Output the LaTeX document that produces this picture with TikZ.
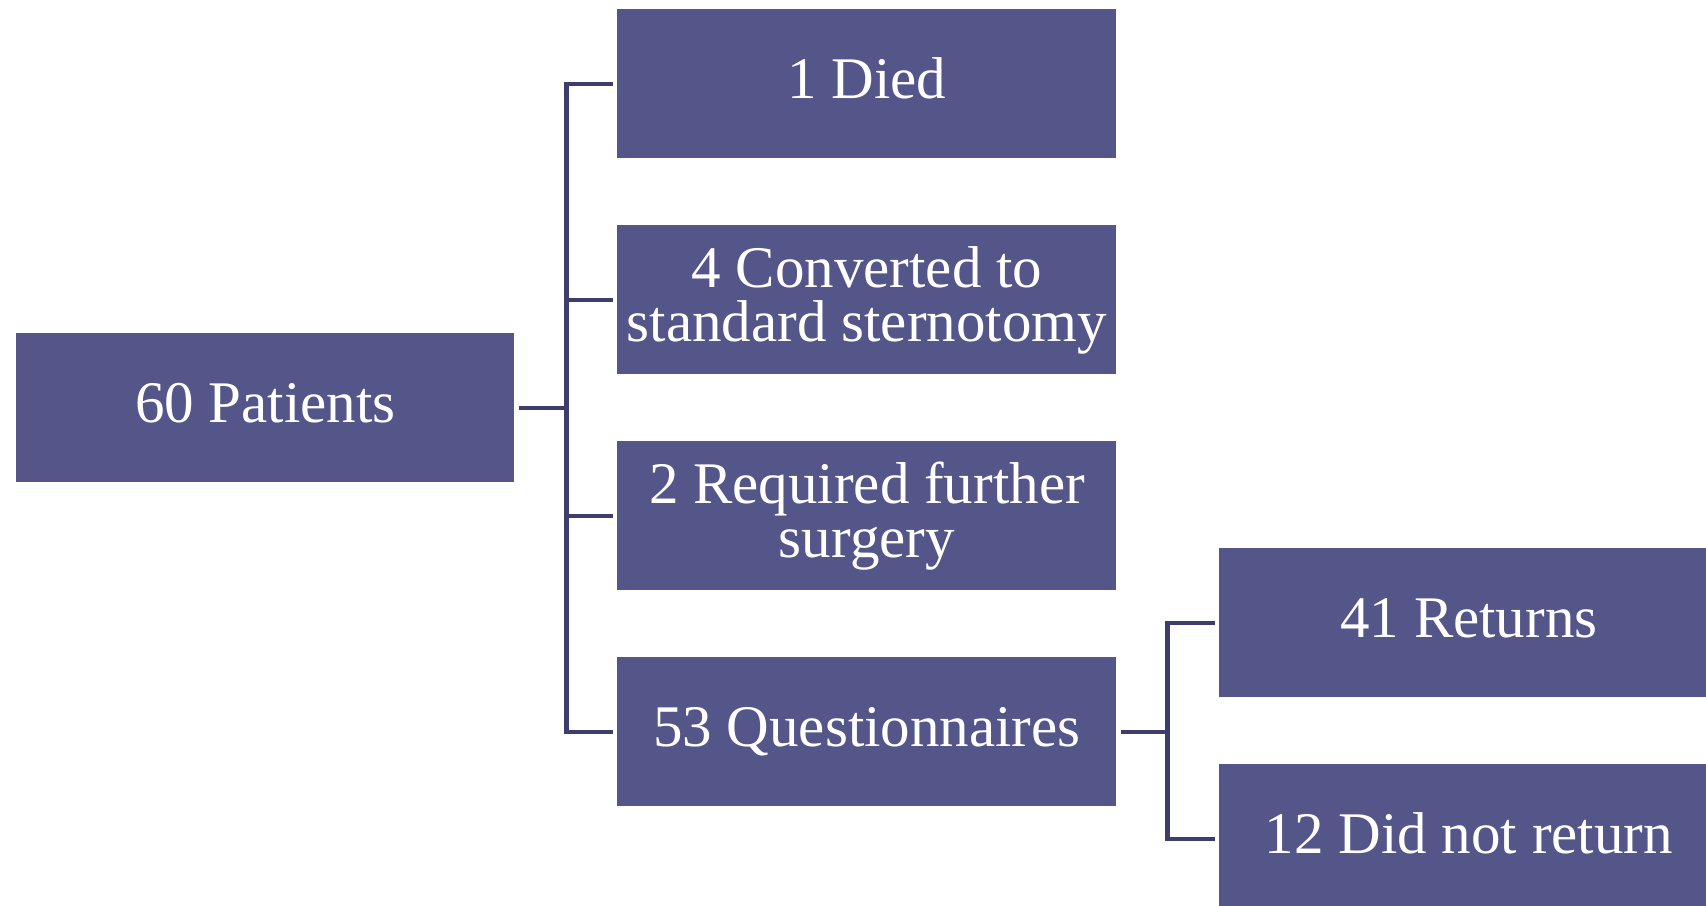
\documentclass[tikz,border=0pt]{standalone}
\usepackage{fontspec}
\setmainfont{Liberation Serif}
\definecolor{boxc}{RGB}{84,86,138}
\definecolor{linec}{RGB}{62,62,108}
\begin{document}
\begin{tikzpicture}[x=0.5pt,y=-0.5pt,
  box/.style={fill=boxc, draw=none, minimum width=249.5pt, minimum height=74.5pt, inner sep=0pt, anchor=north west},
  txt/.style={text=white, font=\fontsize{29.5}{27}\selectfont, inner sep=0pt, anchor=base},
  firstline/.style={txt, text depth=0pt},
  conn/.style={draw=linec, line width=2.4pt, shorten <=2pt, shorten >=2pt}]
\useasboundingbox (0,0) rectangle (1706,905);
\clip (0,0) rectangle (1706,905);
% boxes
\node[box, minimum width=249pt] (pat) at (16,333) {};
\node[box] (died) at (617,9) {};
\node[box] (conv) at (617,225) {};
\node[box] (req) at (617,441) {};
\node[box] (quest) at (617,657) {};
\node[box] (ret) at (1219,548) {};
\node[box] (dnr) at (1219,764) {};
% texts
\node[txt] (tpat) at ([yshift=-7.25pt]pat.center) {60 Patients};
\node[txt] (tdied) at ([yshift=-7.25pt]died.center) {1 Died};
\node[firstline] (tconv1) at ([yshift=6pt]conv.center) {4 Converted to};
\node[txt] (tconv2) at ([yshift=-21pt]conv.center) {standard sternotomy};
\node[firstline] (treq1) at ([yshift=6pt]req.center) {2 Required further};
\node[txt] (treq2) at ([yshift=-21pt]req.center) {surgery};
\node[txt] (tquest) at ([yshift=-7.25pt]quest.center) {53 Questionnaires};
\node[txt] (tret) at ([yshift=-7.25pt]ret.center) {41 Returns};
\node[txt] (tdnr) at ([yshift=-7.25pt]dnr.center) {12 Did not return};
% connectors
\draw[conn] (pat.east) -- ++(52,0) |- (died.west);
\draw[conn] (pat.east) -- ++(52,0) |- (conv.west);
\draw[conn] (pat.east) -- ++(52,0) |- (req.west);
\draw[conn] (pat.east) -- ++(52,0) |- (quest.west);
\draw[conn] (quest.east) -- ++(51,0) |- (ret.west);
\draw[conn] (quest.east) -- ++(51,0) |- (dnr.west);
\end{tikzpicture}
\end{document}
